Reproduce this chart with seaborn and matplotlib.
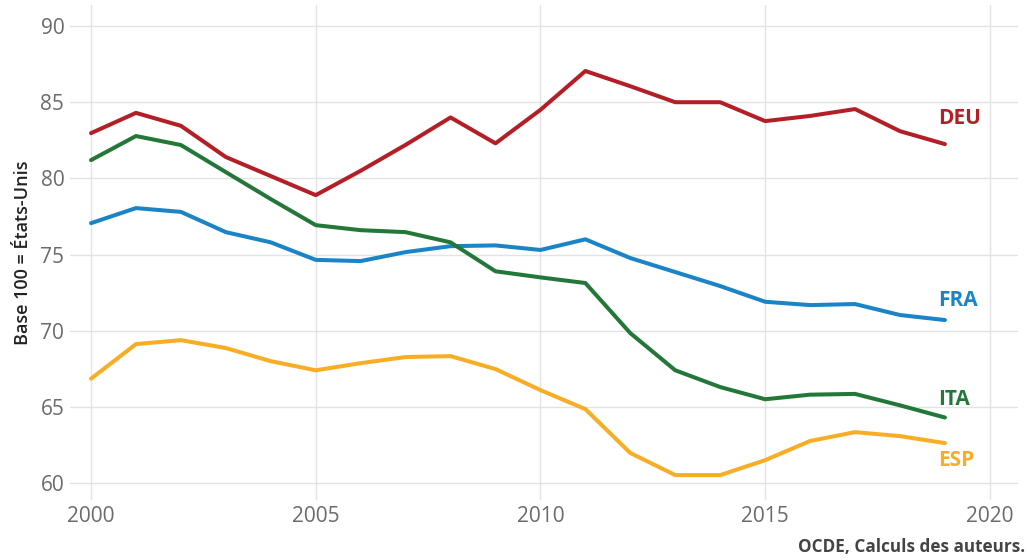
import pandas as pd
import numpy as np
import matplotlib.pyplot as plt
import seaborn as sns

years = list(range(2000, 2020))
deu = [82.97, 84.3, 83.45, 81.4, 80.15, 78.9, 80.5, 82.2, 84.0, 82.3,
       84.5, 87.05, 86.05, 85.0, 85.0, 83.76, 84.1, 84.55, 83.1, 82.25]
fra = [77.06, 78.05, 77.8, 76.47, 75.8, 74.65, 74.57, 75.16, 75.55, 75.6,
       75.3, 76.0, 74.77, 73.85, 72.93, 71.9, 71.68, 71.75, 71.03, 70.7]
ita = [81.2, 82.78, 82.19, 80.41, 78.64, 76.93, 76.6, 76.47, 75.8, 73.9,
       73.5, 73.13, 69.84, 67.4, 66.3, 65.5, 65.8, 65.85, 65.1, 64.3]
esp = [66.85, 69.12, 69.38, 68.86, 68.0, 67.4, 67.87, 68.27, 68.33, 67.48,
       66.1, 64.85, 61.97, 60.52, 60.52, 61.5, 62.76, 63.34, 63.08, 62.62]
countries = ['DEU', 'FRA', 'ITA', 'ESP']
label_y = [83.9, 72.0, 65.5, 61.5]
colors = {'DEU': '#B31E27', 'FRA': '#1A84C7', 'ITA': '#237739', 'ESP': '#F8AD25'}

df = pd.DataFrame({'year': years, 'DEU': deu, 'FRA': fra, 'ITA': ita, 'ESP': esp})
long = df.melt(id_vars='year', var_name='pays', value_name='val')

sns.set_style('whitegrid')
plt.rcParams['font.family'] = ['Open Sans', 'DejaVu Sans']

fig = plt.figure(figsize=(10.28, 5.6), dpi=100)
ax = fig.add_axes([0.068, 0.107, 0.922, 0.884])
sns.lineplot(data=long, x='year', y='val', hue='pays', palette=colors,
             linewidth=2.9, legend=False, ax=ax)

for c, ly in zip(countries, label_y):
    ax.text(2018.85, ly, c, color=colors[c], fontsize=15, fontweight='bold',
            ha='left', va='center')

ax.set_xlim(1999.53, 2020.62)
ax.set_ylim(58.88, 91.38)
ax.set_xticks([2000, 2005, 2010, 2015, 2020])
ax.set_yticks([60, 65, 70, 75, 80, 85, 90])
ax.tick_params(axis='both', labelsize=15, labelcolor='#6b6b6b', length=0, pad=4)
ax.grid(color='#e3e3e3', linewidth=1)
for s in ax.spines.values():
    s.set_visible(False)
ax.set_xlabel('')
ax.set_ylabel('Base 100 = États-Unis', fontsize=13, color='#222222',
              fontweight='semibold', labelpad=6)
fig.text(0.997, 0.008, 'OCDE, Calculs des auteurs.', ha='right', va='bottom',
         fontsize=12.3, fontweight='bold', color='#444444')

plt.savefig('out.png', dpi=100)
